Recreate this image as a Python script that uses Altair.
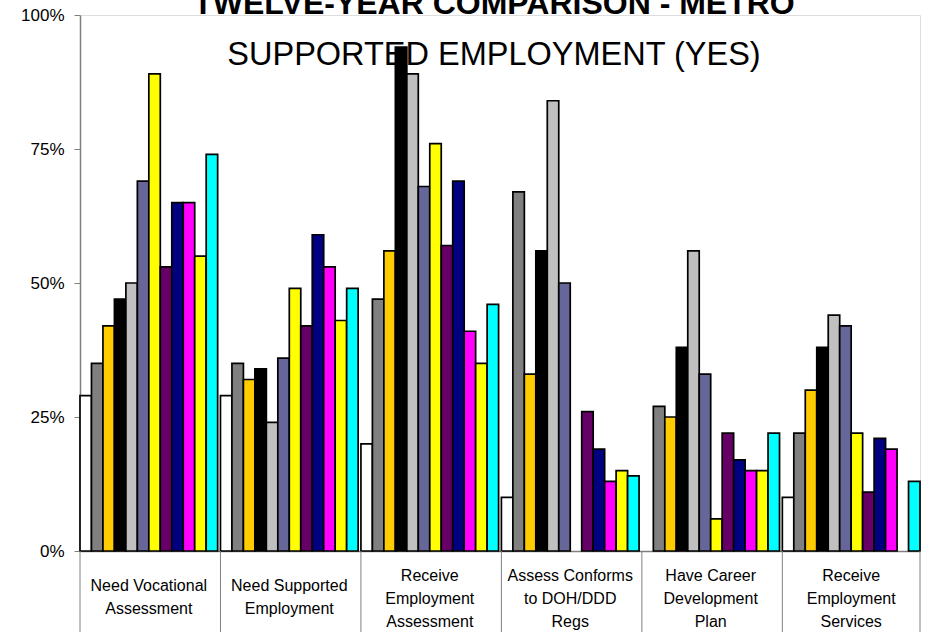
import altair as alt
import pandas as pd

categories = [
    "Need Vocational|Assessment",
    "Need Supported|Employment",
    "Receive|Employment|Assessment",
    "Assess Conforms|to DOH/DDD|Regs",
    "Have Career|Development|Plan",
    "Receive|Employment|Services",
]
years = [f"Year {i}" for i in range(1, 13)]
colors = ["#FFFFFF", "#808080", "#FFCC00", "#000000", "#C0C0C0", "#666699",
          "#FFFF00", "#660066", "#000080", "#FF00FF", "#FFFF00", "#00FFFF"]

need_vocational = [29, 35, 42, 47, 50, 69, 89, 53, 65, 65, 55, 74]
need_supported = [29, 35, 32, 34, 24, 36, 49, 42, 59, 53, 43, 49]
receive_assessment = [20, 47, 56, 94, 89, 68, 76, 57, 69, 41, 35, 46]
assess_conforms = [10, 67, 33, 56, 84, 50, None, 26, 19, 13, 15, 14]
career_plan = [None, 27, 25, 38, 56, 33, 6, 22, 17, 15, 15, 22]
receive_services = [10, 22, 30, 38, 44, 42, 22, 11, 21, 19, None, 13]

title_line1 = "TWELVE-YEAR COMPARISON - METRO"
title_line2 = "SUPPORTED EMPLOYMENT (YES)"

series = [need_vocational, need_supported, receive_assessment,
          assess_conforms, career_plan, receive_services]
rows = []
for cat, vals in zip(categories, series):
    for yr, v in zip(years, vals):
        rows.append({"category": cat, "year": yr, "value": v})
df = pd.DataFrame(rows)
cat_df = pd.DataFrame({"category": categories})

FONT = "Liberation Sans, Arial, sans-serif"
W, H = 840, 536

xscale = alt.Scale(domain=categories, paddingInner=0.02, paddingOuter=0.0)

bars = alt.Chart(df).transform_filter("isValid(datum.value)").mark_bar(
    stroke="black", strokeWidth=1.7
).encode(
    x=alt.X("category:N", sort=categories, scale=xscale,
            axis=alt.Axis(title=None, labels=False, ticks=False,
                          domainColor="#808080", domainWidth=1.5)),
    xOffset=alt.XOffset("year:N", sort=years, scale=alt.Scale(paddingInner=0, paddingOuter=0)),
    y=alt.Y("value:Q", scale=alt.Scale(domain=[0, 100], nice=False),
            axis=alt.Axis(title=None, values=[0, 25, 50, 75, 100],
                          labelExpr="datum.value + '%'", grid=False,
                          labelFont=FONT, labelFontSize=17, labelColor="black",
                          labelPadding=10, tickSize=6, tickColor="#808080",
                          domainColor="#808080", domainWidth=1.5)),
    fill=alt.Fill("year:N", sort=years, scale=alt.Scale(domain=years, range=colors),
                  legend=None),
)

seps = alt.Chart(cat_df).mark_rule(color="#808080", strokeWidth=1).encode(
    x=alt.X("category:N", sort=categories, scale=xscale, bandPosition=0),
    y=alt.value(H), y2=alt.value(H + 90),
)
sep_end = alt.Chart(cat_df.head(1)).mark_rule(color="#808080", strokeWidth=1).encode(
    x=alt.value(W), y=alt.value(H), y2=alt.value(H + 90),
)

def label_layer(nlines, ypix):
    return alt.Chart(cat_df).transform_calculate(
        lines="split(datum.category, '|')"
    ).transform_calculate(
        n="length(datum.lines)"
    ).transform_filter(f"datum.n == {nlines}").mark_text(
        font=FONT, fontSize=16, lineHeight=23, align="center", baseline="top",
        color="black"
    ).encode(
        x=alt.X("category:N", sort=categories, scale=xscale),
        y=alt.value(ypix),
        text="lines:N",
    )

labels2 = label_layer(2, H + 27)
labels3 = label_layer(3, H + 17)

t1 = alt.Chart(pd.DataFrame({"t": [title_line1]})).mark_text(
    font=FONT, fontSize=32, fontWeight="bold", align="center", baseline="alphabetic",
    color="black"
).encode(text="t:N", x=alt.value(414), y=alt.value(-1))

t2 = alt.Chart(pd.DataFrame({"t": [title_line2]})).mark_text(
    font=FONT, fontSize=32.5, align="center", baseline="alphabetic", color="black"
).encode(text="t:N", x=alt.value(414), y=alt.value(50))

chart = alt.layer(bars, seps, sep_end, labels2, labels3, t1, t2).properties(
    width=W, height=H,
    autosize=alt.AutoSizeParams(type="none"),
    padding={"left": 80, "top": 15, "right": 8, "bottom": 81},
).configure_view(stroke=None).configure(background="white")

chart.save("out.html", embed_options={"renderer": "svg", "actions": False})
